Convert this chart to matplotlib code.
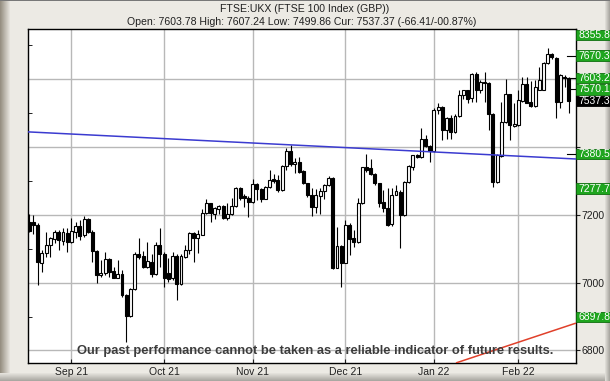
import numpy as np
import pandas as pd
import matplotlib
matplotlib.use('Agg')
import matplotlib.pyplot as plt
from matplotlib import font_manager
from matplotlib.patches import Rectangle
from matplotlib.ticker import MultipleLocator
import matplotlib.transforms as mtransforms

# FTSE 100 daily candles, 17 Aug 2021 .. 17 Feb 2022
opens = [7180, 7180, 7170, 7059, 7088, 7111, 7128, 7150, 7124, 7147,
         7119, 7150, 7167, 7140, 7188, 7150, 7094, 7024, 7029, 7069,
         7035, 7015, 7027, 6963, 6902, 6980, 7084, 7078, 7047, 7062,
         7027, 7111, 7086, 7029, 7013, 7078, 6995, 7076, 7096, 7148,
         7131, 7142, 7206, 7234, 7204, 7217, 7226, 7191, 7203, 7226,
         7278, 7255, 7251, 7239, 7290, 7275, 7246, 7281, 7305, 7303,
         7273, 7344, 7388, 7349, 7356, 7329, 7293, 7258, 7224, 7256,
         7270, 7288, 7310, 7044, 7109, 7059, 7170, 7132, 7121, 7234,
         7340, 7337, 7322, 7293, 7239, 7221, 7172, 7260, 7268, 7199,
         7298, 7342, 7376, 7371, 7423, 7403, 7389, 7509, 7519, 7450,
         7487, 7445, 7491, 7555, 7568, 7545, 7617, 7568, 7593, 7588,
         7497, 7298, 7374, 7475, 7556, 7463, 7465, 7537, 7586, 7534,
         7521, 7570, 7570, 7647, 7676, 7662, 7534, 7608, 7604]
highs = [7204, 7199, 7175, 7096, 7150, 7136, 7155, 7155, 7160, 7160,
         7190, 7180, 7185, 7197, 7190, 7155, 7096, 7067, 7091, 7072,
         7047, 7067, 7037, 6968, 6983, 7091, 7131, 7094, 7121, 7086,
         7121, 7160, 7091, 7072, 7091, 7086, 7086, 7111, 7150, 7150,
         7155, 7216, 7246, 7236, 7224, 7229, 7229, 7234, 7249, 7283,
         7283, 7261, 7255, 7305, 7293, 7278, 7285, 7334, 7320, 7317,
         7346, 7396, 7406, 7367, 7371, 7332, 7295, 7278, 7275, 7278,
         7291, 7314, 7312, 7165, 7111, 7185, 7175, 7155, 7249, 7342,
         7379, 7366, 7324, 7295, 7273, 7278, 7280, 7288, 7273, 7301,
         7347, 7378, 7379, 7455, 7435, 7406, 7514, 7531, 7521, 7489,
         7494, 7499, 7568, 7570, 7570, 7619, 7622, 7597, 7622, 7592,
         7500, 7380, 7534, 7600, 7558, 7529, 7568, 7608, 7608, 7596,
         7598, 7635, 7652, 7691, 7678, 7665, 7617, 7612, 7607.24]
lows = [7150, 7145, 6993, 7032, 7076, 7076, 7116, 7096, 7111, 7091,
        7116, 7131, 7126, 7135, 7147, 7062, 6998, 7017, 7022, 7017,
        7013, 7013, 6958, 6826, 6899, 6978, 7071, 7042, 7042, 7016,
        7022, 7047, 6988, 7001, 7008, 6949, 6993, 7072, 7086, 7062,
        7088, 7140, 7204, 7180, 7188, 7202, 7188, 7185, 7199, 7222,
        7244, 7222, 7194, 7234, 7244, 7239, 7246, 7278, 7293, 7268,
        7271, 7332, 7344, 7325, 7324, 7291, 7253, 7196, 7206, 7204,
        7246, 7285, 7039, 7042, 6988, 7057, 7081, 7106, 7118, 7232,
        7327, 7317, 7288, 7224, 7209, 7168, 7168, 7258, 7101, 7196,
        7293, 7332, 7369, 7369, 7399, 7357, 7386, 7499, 7421, 7423,
        7423, 7442, 7489, 7543, 7529, 7534, 7534, 7560, 7534, 7450,
        7283, 7293, 7372, 7472, 7421, 7460, 7462, 7534, 7529, 7517,
        7517, 7568, 7568, 7645, 7660, 7485, 7514, 7578, 7499.86]
closes = [7153, 7170, 7062, 7088, 7111, 7131, 7150, 7126, 7150, 7119,
          7152, 7167, 7138, 7187, 7150, 7094, 7024, 7030, 7069, 7032,
          7015, 7027, 6963, 6902, 6981, 7084, 7076, 7047, 7065, 7025,
          7111, 7086, 7013, 7011, 7078, 6995, 7078, 7096, 7148, 7131,
          7143, 7206, 7234, 7206, 7221, 7226, 7191, 7204, 7226, 7278,
          7251, 7249, 7239, 7290, 7275, 7246, 7281, 7303, 7300, 7273,
          7344, 7388, 7349, 7356, 7327, 7293, 7258, 7224, 7258, 7270,
          7288, 7310, 7042, 7109, 7059, 7170, 7130, 7121, 7234, 7340,
          7334, 7322, 7293, 7234, 7219, 7170, 7260, 7271, 7199, 7298,
          7344, 7376, 7371, 7423, 7403, 7389, 7509, 7519, 7450, 7487,
          7445, 7491, 7555, 7568, 7543, 7617, 7568, 7593, 7588, 7497,
          7298, 7376, 7475, 7556, 7465, 7468, 7539, 7586, 7531, 7521,
          7576, 7598, 7647, 7676, 7665, 7534, 7612, 7603, 7537.37]

holidays = ['2021-08-30', '2021-12-27', '2021-12-28', '2022-01-03']
dates = pd.bdate_range('2021-08-17', '2022-02-17')
dates = dates[~dates.isin(pd.to_datetime(holidays))]

# price levels flagged on the right edge
levels = [8355.8, 7670.3, 7603.2, 7570.1, 7537.3, 7380.5, 7277.7, 6897.8]
current_level = 7537.3
marked_levels = [7670.3, 7603.2, 7570.1, 7380.5]

# y tick labels (the ones under the flags are hidden in the original)
ytick_vals = [6800, 7000, 7200, 7400, 7600]
ytick_labels = ['6800', '7000', '7200', '', '']

# trend lines (index, price) end points
blue_x, blue_y = [-0.3, 129.7], [7445, 7365]
red_x, red_y = [101.4, 129.5], [6764, 6880]

title = 'FTSE:UKX (FTSE 100 Index (GBP))'
subtitle = 'Open: 7603.78 High: 7607.24 Low: 7499.86 Cur: 7537.37 (-66.41/-00.87%)'
disclaimer = 'Our past performance cannot be taken as a reliable indicator of future results.'

plt.rcParams['font.family'] = ['Liberation Sans', 'DejaVu Sans']

fig = plt.figure(figsize=(6.1, 3.81), dpi=100)

# bevelled frame background
H, W = 381, 610
base = np.array([236, 234, 228]) / 255
img = np.ones((H, W, 3)) * base
dark_l = np.array([150, 143, 130]) / 255
for x in range(10):
    t = x / 10
    img[:, x] = dark_l * (1 - t) + base * t
dark_b = np.array([170, 168, 162]) / 255
for k in range(8):
    t = k / 8
    img[H - 1 - k, :] = dark_b * (1 - t) + base * t
for k in range(5):
    t = k / 5
    img[:, W - 1 - k] = dark_b * (1 - t) + base * t
img[0, :] = np.array([120, 120, 120]) / 255
bg = fig.add_axes([0, 0, 1, 1], zorder=-10)
bg.imshow(img, aspect='auto', interpolation='nearest')
bg.axis('off')

ax = fig.add_axes([28 / 610, 1 - 362.7 / 381, 548 / 610, (362.7 - 28.5) / 381])
ax.set_facecolor('white')

x = np.arange(len(closes))
o = np.array(opens)
c = np.array(closes)
ax.vlines(x, lows, highs, color='black', lw=0.8, zorder=3)
face = ['white' if cc >= oo else 'black' for oo, cc in zip(o, c)]
ax.bar(x, np.abs(c - o), bottom=np.minimum(o, c), width=0.7, color=face,
       edgecolor='black', linewidth=0.8, zorder=4)

ax.plot(blue_x, blue_y, color='#3b3bd0', lw=1.1, zorder=5)
ax.plot(red_x, red_y, color='#e0402a', lw=1.1, zorder=5)

ax.set_xlim(-0.3, 129.7)
ax.set_ylim(6764, 7750)

month_idx = [i for i in range(1, len(dates)) if dates[i].month != dates[i - 1].month]
ax.set_xticks(month_idx)
ax.set_xticklabels([dates[i].strftime('%b %y') for i in month_idx])
ax.set_yticks(ytick_vals)
ax.set_yticklabels(ytick_labels)
ax.yaxis.set_minor_locator(MultipleLocator(100))
ax.grid(True, which='major', color='#b8b8b8', lw=1, zorder=0)
ax.set_axisbelow(True)
ax.tick_params(axis='x', direction='in', length=3, labelsize=7.5, pad=3,
               colors='#202020', top=False)
ax.tick_params(axis='y', which='major', left=False, right=True, labelleft=False,
               labelright=True, direction='out', length=3, labelsize=7.5,
               pad=1, colors='#202020')
ax.tick_params(axis='y', which='minor', left=True, right=False, direction='in',
               length=3, colors='black')
for s in ax.spines.values():
    s.set_color('black')
    s.set_linewidth(1)

# right-hand level flags
tr = mtransforms.blended_transform_factory(ax.transAxes, ax.transData)
ytop = ax.get_ylim()[1]
for lv in levels:
    yv = min(lv, ytop - 20)
    fc = 'black' if lv == current_level else '#1fa51f'
    ax.add_patch(Rectangle((1.0, yv - 15), 0.08, 30, transform=tr, facecolor=fc,
                           edgecolor='#0e6e0e' if fc != 'black' else 'black',
                           lw=0.6, clip_on=False, zorder=10))
    ax.text(1.004, yv, f'{lv:.1f}', transform=tr, color='white', fontsize=7.5,
            va='center', ha='left', clip_on=False, zorder=11)
for lv in marked_levels:
    ax.plot([0.984, 1.0], [lv, lv], transform=tr, color='black', lw=0.8,
            clip_on=False, zorder=6)

fig.text(305 / 610, 1 - 9 / 381, title, ha='center', va='center',
         fontsize=7.6, color='#202020')
fig.text(302 / 610, 1 - 22 / 381, subtitle, ha='center', va='center',
         fontsize=7.6, color='#202020')

names = {f.name for f in font_manager.fontManager.ttflist}
if 'Liberation Sans Narrow' in names:
    dfam, dsize = 'Liberation Sans Narrow', 11.3
else:
    dfam, dsize = 'Liberation Sans', 9.3
fig.text(315 / 610, 1 - 351 / 381, disclaimer, ha='center', va='center',
         fontsize=dsize, family=dfam, fontweight='bold', color='#3c3c3c', zorder=20)

fig.savefig('out.png', dpi=100)
